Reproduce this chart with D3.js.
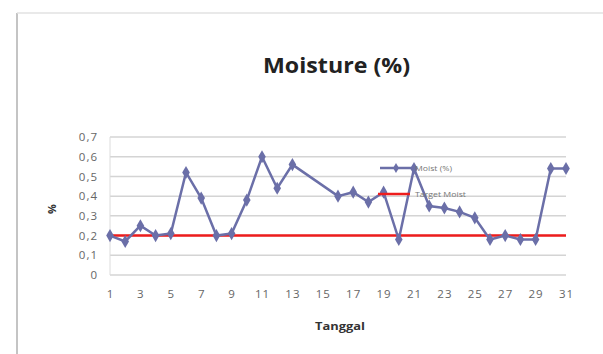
<!DOCTYPE html>
<html><head><meta charset="utf-8">
<script src="https://cdn.jsdelivr.net/npm/d3@7"></script>
<style>body{margin:0;background:#fff;} text{font-family:"Open Sans",sans-serif;}</style>
</head><body>
<script>
const days = d3.range(1, 32);
const moist = [0.20,0.17,0.25,0.20,0.21,0.52,0.39,0.20,0.21,0.38,0.60,0.44,0.56,null,null,0.40,0.42,0.37,0.42,0.18,0.54,0.35,0.34,0.32,0.29,0.18,0.20,0.18,0.18,0.54,0.54];
const target = days.map(() => 0.20);
const yTicks = [0,0.1,0.2,0.3,0.4,0.5,0.6,0.7];
const xTicks = d3.range(1, 32, 2);

const W = 603, H = 354;
const svg = d3.select("body").append("svg").attr("width", W).attr("height", H);

// frame
svg.append("line").attr("x1",17).attr("x2",17).attr("y1",13).attr("y2",H).attr("stroke","#c4c4c4").attr("stroke-width",2);
svg.append("line").attr("x1",17).attr("x2",W).attr("y1",13).attr("y2",13).attr("stroke","#e2e2e2").attr("stroke-width",1.5);

const x = d3.scaleLinear().domain([1,31]).range([110,566]);
const y = d3.scaleLinear().domain([0,0.7]).range([275,137]);

// gridlines
svg.append("g").selectAll("line").data(yTicks).join("line")
  .attr("x1",110).attr("x2",566).attr("y1",d=>y(d)).attr("y2",d=>y(d))
  .attr("stroke","#d4d4d4").attr("stroke-width",1.5);
svg.append("line").attr("x1",110).attr("x2",110).attr("y1",y(0.7)).attr("y2",y(0)).attr("stroke","#dcdcdc").attr("stroke-width",1);

// y axis labels
const yAxis = d3.axisLeft(y).tickValues(yTicks).tickSize(0).tickPadding(12)
  .tickFormat(d => d === 0 ? "0" : d3.format(".1f")(d).replace(".", ","));
const gy = svg.append("g").attr("transform","translate(110,0)").call(yAxis);
gy.select(".domain").remove();
gy.selectAll("text").attr("fill","#666").style("font-size","11.5px").style("letter-spacing","1px").style("font-family","'Open Sans',sans-serif");

// x axis labels
const xAxis = d3.axisBottom(x).tickValues(xTicks).tickSize(0).tickPadding(15).tickFormat(d3.format("d"));
const gx = svg.append("g").attr("transform","translate(0,275)").call(xAxis);
gx.select(".domain").remove();
gx.selectAll("text").attr("fill","#666").style("font-size","11.5px").style("letter-spacing","1px").style("font-family","'Open Sans',sans-serif");

// target line
svg.append("path").datum(days.map((d,i)=>[d,target[i]]))
  .attr("d", d3.line().x(d=>x(d[0])).y(d=>y(d[1])))
  .attr("fill","none").attr("stroke","#ee1c1c").attr("stroke-width",2.5);

// moisture line
const pts = days.map((d,i)=>[d,moist[i]]).filter(d=>d[1]!==null);
svg.append("path").datum(pts)
  .attr("d", d3.line().x(d=>x(d[0])).y(d=>y(d[1])))
  .attr("fill","none").attr("stroke","#6b6fa8").attr("stroke-width",2.5);
svg.append("g").selectAll("path").data(pts).join("path")
  .attr("transform", d=>`translate(${x(d[0])},${y(d[1])})`)
  .attr("d", d3.symbol(d3.symbolDiamond, 50))
  .attr("fill","#6b6fa8");

// legend
const lg = svg.append("g");
lg.append("line").attr("x1",380).attr("x2",413).attr("y1",168).attr("y2",168).attr("stroke","#6b6fa8").attr("stroke-width",2.5);
lg.append("path").attr("transform","translate(396,168)").attr("d",d3.symbol(d3.symbolDiamond,30)).attr("fill","#6b6fa8");
lg.append("text").attr("x",415).attr("y",170.5).text("Moist (%)").attr("fill","#777").style("font-size","7.5px")
  .attr("textLength",37).attr("lengthAdjust","spacingAndGlyphs");
lg.append("line").attr("x1",378).attr("x2",410).attr("y1",194).attr("y2",194).attr("stroke","#ee1c1c").attr("stroke-width",2.5);
lg.append("text").attr("x",415).attr("y",196.5).text("Target Moist").attr("fill","#777").style("font-size","7.5px")
  .attr("textLength",51).attr("lengthAdjust","spacingAndGlyphs");

// titles
svg.append("text").attr("x",263).attr("y",73)
  .text("Moisture (%)").attr("fill","#222").style("font-size","22px").style("font-weight","bold")
  .attr("textLength",147).attr("lengthAdjust","spacingAndGlyphs");
svg.append("text").attr("x",315).attr("y",330)
  .text("Tanggal").attr("fill","#333").style("font-size","10.5px").style("font-weight","bold")
  .attr("textLength",50).attr("lengthAdjust","spacingAndGlyphs");
svg.append("text").attr("transform","translate(56,209) rotate(-90)").attr("text-anchor","middle")
  .text("%").attr("fill","#333").style("font-size","11px").style("font-weight","bold");
</script>
</body></html>
